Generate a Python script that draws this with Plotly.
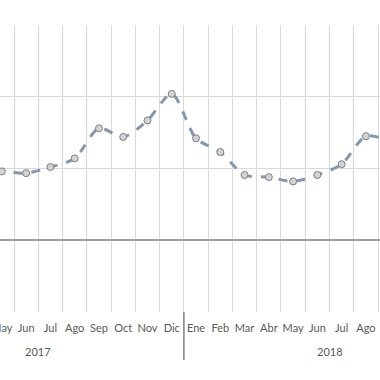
import plotly.graph_objects as go

months = ["Ene", "Feb", "Mar", "Abr", "May", "Jun", "Jul", "Ago", "Sep", "Oct", "Nov", "Dic"]
years = ["2017", "2018"]
tick_labels = months + months
# series: Abr 2017 .. Sep 2018
start_index = 3
values = [0.97, 0.96, 0.935, 1.02, 1.14, 1.56, 1.44, 1.67, 2.04,
          1.42, 1.23, 0.91, 0.88, 0.82, 0.91, 1.06, 1.45, 1.38]

x_vals = list(range(start_index, start_index + len(values)))

FONT = "Lato, Carlito, Calibri, sans-serif"

fig = go.Figure()
fig.add_trace(go.Scatter(
    x=x_vals, y=values, mode="lines+markers",
    line=dict(color="#8497b0", width=3, dash="dash", shape="spline", smoothing=0.8),
    marker=dict(symbol="circle", size=7, color="#d3d3d3",
                line=dict(color="#7f7f7f", width=1)),
    hoverinfo="skip", showlegend=False,
))

tickvals = list(range(len(tick_labels)))
fig.update_xaxes(
    range=[3.923, 19.58], automargin=False,
    tickmode="array", tickvals=tickvals, ticktext=tick_labels,
    showgrid=False, zeroline=False, showline=False, ticks="",
    ticklabelstandoff=8, ticklabeloverflow="allow",
    tickfont=dict(family=FONT, size=11, color="#595959"),
    minor=dict(tickmode="linear", tick0=0.5, dtick=1, showgrid=True,
               gridcolor="#d9d9d9", gridwidth=1),
)
fig.update_yaxes(
    range=[-1, 3], dtick=1, showgrid=True, gridcolor="#d9d9d9", gridwidth=1,
    zeroline=True, zerolinecolor="#a0a0a0", zerolinewidth=2, automargin=False,
    showticklabels=False, ticks="", showline=False,
)

# year labels centred over their months
for k, yr in enumerate(years):
    fig.add_annotation(x=k * 12 + 5.5, y=-0.139, xref="x", yref="paper",
                       yanchor="middle", text=yr, showarrow=False,
                       font=dict(family=FONT, size=11, color="#595959"))
# year separators
for k in range(1, len(years)):
    fig.add_shape(type="line", x0=k * 12 - 0.5, x1=k * 12 - 0.5, y0=0, y1=-0.167,
                  xref="x", yref="paper", line=dict(color="#808080", width=1.5))

fig.update_layout(
    width=380, height=380,
    margin=dict(l=0, r=0, t=25, b=68),
    plot_bgcolor="white", paper_bgcolor="white",
)
fig.write_html("out.html", config={"displayModeBar": False},
               post_script="document.body.style.margin='0';document.body.style.overflow='hidden';")
